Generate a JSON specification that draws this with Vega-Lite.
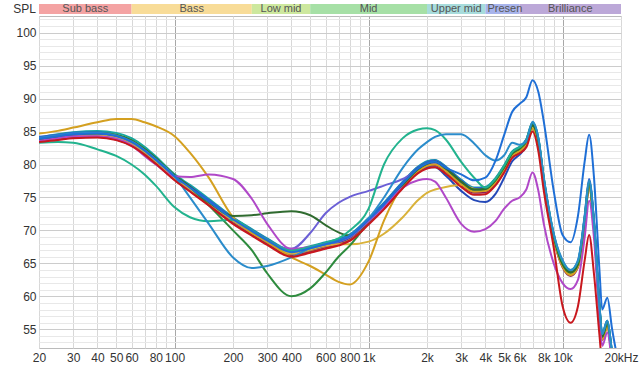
{
  "$schema": "https://vega.github.io/schema/vega-lite/v6.json",
  "padding": {"left": 13, "top": 3, "right": 2, "bottom": 0},
  "background": "white",
  "spacing": 2,
  "bounds": "flush",
  "config": {"font": "Liberation Sans", "axis": {"labelFont": "Liberation Sans", "labelColor": "#333", "labelFontSize": 12}},
  "resolve": {"scale": {"color": "independent", "x": "independent"}},
  "vconcat": [
    {
      "width": 582,
      "height": 10,
      "view": {"stroke": null},
      "data": {"values": [
        {"band": "Sub bass", "a": 20, "b": 60},
        {"band": "Bass", "a": 60, "b": 250},
        {"band": "Low mid", "a": 250, "b": 500},
        {"band": "Mid", "a": 500, "b": 2000},
        {"band": "Upper mid", "a": 2000, "b": 4000},
        {"band": "Presence", "a": 4000, "b": 6000},
        {"band": "Brilliance", "a": 6000, "b": 20000}
      ]},
      "layer": [
        {
          "mark": {"type": "rect"},
          "encoding": {
            "x": {"field": "a", "type": "quantitative", "scale": {"type": "log", "domain": [20, 20000], "nice": false}, "axis": null},
            "x2": {"field": "b"},
            "color": {"field": "band", "type": "nominal", "legend": null,
              "scale": {"domain": ["Sub bass", "Bass", "Low mid", "Mid", "Upper mid", "Presence", "Brilliance"],
                        "range": ["#f4a3a3", "#f8dc98", "#cde89e", "#a6e0a6", "#a7dcdc", "#a8b4ec", "#bca8d8"]}}
          }
        },
        {
          "transform": [{"filter": "datum.band != 'Presence'"}, {"calculate": "sqrt(datum.a * datum.b)", "as": "mid"}],
          "mark": {"type": "text", "fontSize": 11, "color": "#555", "baseline": "middle", "font": "Liberation Sans"},
          "encoding": {
            "x": {"field": "mid", "type": "quantitative"},
            "text": {"field": "band"}
          }
        },
        {
          "transform": [{"filter": "datum.band == 'Presence'"}],
          "mark": {"type": "text", "fontSize": 11, "color": "#555", "baseline": "middle", "align": "left", "dx": 2, "limit": 37, "ellipsis": "\u200b", "font": "Liberation Sans"},
          "encoding": {
            "x": {"field": "a", "type": "quantitative"},
            "text": {"field": "band"}
          }
        },
        {
          "transform": [{"filter": "datum.band == 'Sub bass'"}],
          "mark": {"type": "text", "text": "SPL", "fontSize": 12, "color": "#333", "baseline": "middle", "align": "right", "dx": -3, "font": "Liberation Sans"},
          "encoding": {
            "x": {"field": "a", "type": "quantitative"}
          }
        }
      ]
    },
    {
      "width": 582,
      "height": 332,
      "view": {"stroke": "#bbbbbb"},
      "data": {"values": [
        {"f":20,"m1":84.2,"m2":84.1,"m3":83.7,"m4":83.6,"m5":84.0,"m6":83.5,"rd":83.4,"gd":84.7,"yl":83.8,"tg":83.3,"ce":84.0,"or":83.6,"vi":83.8,"dg":83.7,"gp":83.8,"tb":83.9,"db":83.8},
        {"f":25,"m1":84.5,"m2":84.6,"m3":84.0,"m4":84.0,"m5":84.4,"m6":83.8,"rd":83.7,"gd":85.1,"yl":84.1,"tg":83.4,"ce":84.4,"or":84.0,"vi":84.1,"dg":84.1,"gp":84.2,"tb":84.3,"db":84.1},
        {"f":30,"m1":84.8,"m2":84.9,"m3":84.3,"m4":84.3,"m5":84.7,"m6":84.1,"rd":84.0,"gd":85.6,"yl":84.4,"tg":83.3,"ce":84.7,"or":84.3,"vi":84.4,"dg":84.5,"gp":84.6,"tb":84.6,"db":84.4},
        {"f":40,"m1":84.9,"m2":85.1,"m3":84.4,"m4":84.5,"m5":84.8,"m6":84.2,"rd":84.1,"gd":86.4,"yl":84.5,"tg":82.3,"ce":84.8,"or":84.3,"vi":84.5,"dg":84.7,"gp":84.8,"tb":84.7,"db":84.5},
        {"f":50,"m1":84.5,"m2":84.8,"m3":84.0,"m4":84.2,"m5":84.4,"m6":83.8,"rd":83.7,"gd":86.9,"yl":84.1,"tg":81.3,"ce":84.4,"or":83.9,"vi":84.1,"dg":84.4,"gp":84.5,"tb":84.3,"db":84.1},
        {"f":60,"m1":83.6,"m2":84.0,"m3":83.1,"m4":83.3,"m5":83.5,"m6":82.9,"rd":82.8,"gd":86.9,"yl":83.2,"tg":80.0,"ce":83.5,"or":82.9,"vi":83.2,"dg":83.6,"gp":83.7,"tb":83.4,"db":83.2},
        {"f":70,"m1":82.3,"m2":82.7,"m3":81.8,"m4":82.0,"m5":82.2,"m6":81.6,"rd":81.5,"gd":86.4,"yl":81.9,"tg":78.5,"ce":82.2,"or":81.3,"vi":81.9,"dg":82.3,"gp":82.4,"tb":82.1,"db":81.9},
        {"f":80,"m1":80.9,"m2":81.2,"m3":80.4,"m4":80.6,"m5":80.8,"m6":80.2,"rd":80.1,"gd":85.8,"yl":80.5,"tg":76.8,"ce":80.8,"or":80.0,"vi":80.5,"dg":80.9,"gp":81.0,"tb":80.7,"db":80.5},
        {"f":100,"m1":78.3,"m2":78.5,"m3":77.9,"m4":78.1,"m5":78.3,"m6":77.7,"rd":77.6,"gd":84.3,"yl":78.0,"tg":73.5,"ce":78.2,"or":78.2,"vi":78.0,"dg":78.3,"gp":78.4,"tb":78.2,"db":78.0},
        {"f":120,"m1":76.7,"m2":76.9,"m3":76.2,"m4":76.4,"m5":76.6,"m6":76.0,"rd":75.9,"gd":81.8,"yl":76.3,"tg":72.0,"ce":75.0,"or":78.1,"vi":76.3,"dg":76.6,"gp":76.6,"tb":76.5,"db":76.3},
        {"f":150,"m1":74.6,"m2":74.8,"m3":74.1,"m4":74.3,"m5":74.5,"m6":73.9,"rd":73.8,"gd":78.0,"yl":74.2,"tg":71.4,"ce":71.0,"or":78.5,"vi":74.2,"dg":74.3,"gp":73.8,"tb":74.4,"db":74.2},
        {"f":200,"m1":71.9,"m2":72.0,"m3":71.4,"m4":71.6,"m5":71.8,"m6":71.2,"rd":71.0,"gd":72.0,"yl":71.5,"tg":71.6,"ce":65.9,"or":77.8,"vi":71.5,"dg":72.2,"gp":70.0,"tb":71.7,"db":71.5},
        {"f":250,"m1":70.1,"m2":70.2,"m3":69.6,"m4":69.8,"m5":70.0,"m6":69.4,"rd":69.2,"gd":69.6,"yl":69.7,"tg":70.0,"ce":64.3,"or":74.8,"vi":69.7,"dg":72.3,"gp":67.0,"tb":69.9,"db":69.7},
        {"f":300,"m1":68.7,"m2":68.8,"m3":68.2,"m4":68.4,"m5":68.6,"m6":68.0,"rd":67.8,"gd":68.3,"yl":68.3,"tg":68.6,"ce":64.6,"or":71.0,"vi":68.3,"dg":72.6,"gp":63.5,"tb":68.5,"db":68.3},
        {"f":400,"m1":66.9,"m2":67.0,"m3":66.4,"m4":66.6,"m5":66.8,"m6":66.2,"rd":66.0,"gd":65.9,"yl":66.5,"tg":66.9,"ce":65.9,"or":67.2,"vi":67.2,"dg":72.9,"gp":60.0,"tb":66.7,"db":66.5},
        {"f":500,"m1":67.5,"m2":67.6,"m3":67.0,"m4":67.2,"m5":67.4,"m6":66.8,"rd":66.6,"gd":64.6,"yl":67.1,"tg":67.5,"ce":67.3,"or":67.5,"vi":69.6,"dg":72.3,"gp":61.2,"tb":67.3,"db":67.1},
        {"f":600,"m1":68.1,"m2":68.2,"m3":67.6,"m4":67.8,"m5":68.0,"m6":67.4,"rd":67.2,"gd":63.3,"yl":67.7,"tg":68.1,"ce":67.9,"or":67.9,"vi":72.6,"dg":70.8,"gp":63.6,"tb":67.9,"db":67.7},
        {"f":700,"m1":68.6,"m2":68.7,"m3":68.1,"m4":68.3,"m5":68.5,"m6":67.9,"rd":67.7,"gd":62.2,"yl":67.9,"tg":68.8,"ce":68.4,"or":68.3,"vi":74.2,"dg":69.7,"gp":66.0,"tb":68.4,"db":68.2},
        {"f":800,"m1":69.3,"m2":69.4,"m3":68.8,"m4":69.0,"m5":69.2,"m6":68.6,"rd":68.4,"gd":61.8,"yl":67.9,"tg":70.0,"ce":69.2,"or":69.0,"vi":75.1,"dg":69.2,"gp":67.7,"tb":69.1,"db":68.9},
        {"f":1000,"m1":71.8,"m2":71.9,"m3":71.3,"m4":71.5,"m5":71.7,"m6":71.1,"rd":70.9,"gd":65.3,"yl":68.3,"tg":73.3,"ce":71.8,"or":71.4,"vi":76.0,"dg":71.4,"gp":71.2,"tb":71.6,"db":71.4},
        {"f":1200,"m1":74.1,"m2":74.2,"m3":73.6,"m4":73.8,"m5":74.0,"m6":73.4,"rd":73.2,"gd":71.5,"yl":69.5,"tg":80.0,"ce":75.0,"or":73.6,"vi":76.8,"dg":73.7,"gp":73.8,"tb":73.9,"db":73.7},
        {"f":1500,"m1":77.3,"m2":77.4,"m3":76.8,"m4":77.0,"m5":77.2,"m6":76.6,"rd":76.4,"gd":76.8,"yl":72.0,"tg":84.0,"ce":79.5,"or":76.5,"vi":77.8,"dg":76.9,"gp":77.0,"tb":77.1,"db":76.9},
        {"f":1800,"m1":79.6,"m2":79.7,"m3":79.1,"m4":79.3,"m5":79.5,"m6":78.9,"rd":78.7,"gd":79.0,"yl":74.6,"tg":85.3,"ce":82.3,"or":77.6,"vi":79.2,"dg":79.3,"gp":79.4,"tb":79.4,"db":79.0},
        {"f":2000,"m1":80.4,"m2":80.5,"m3":79.9,"m4":80.1,"m5":80.3,"m6":79.7,"rd":79.4,"gd":79.8,"yl":75.7,"tg":85.5,"ce":83.4,"or":77.8,"vi":80.0,"dg":80.1,"gp":80.2,"tb":80.2,"db":79.6},
        {"f":2200,"m1":80.6,"m2":80.7,"m3":80.1,"m4":80.3,"m5":80.5,"m6":79.9,"rd":79.6,"gd":80.0,"yl":76.2,"tg":85.2,"ce":84.2,"or":77.4,"vi":80.2,"dg":80.4,"gp":80.4,"tb":80.4,"db":79.6},
        {"f":2500,"m1":79.6,"m2":79.7,"m3":79.1,"m4":79.3,"m5":79.5,"m6":78.9,"rd":78.6,"gd":79.0,"yl":76.6,"tg":83.8,"ce":84.6,"or":75.0,"vi":79.2,"dg":79.4,"gp":79.4,"tb":79.5,"db":78.3},
        {"f":3000,"m1":77.6,"m2":77.7,"m3":77.1,"m4":77.3,"m5":77.5,"m6":76.9,"rd":76.6,"gd":77.0,"yl":76.9,"tg":80.4,"ce":84.6,"or":71.0,"vi":77.2,"dg":77.4,"gp":77.4,"tb":78.5,"db":76.0},
        {"f":3500,"m1":76.4,"m2":76.5,"m3":75.9,"m4":76.1,"m5":76.3,"m6":75.7,"rd":75.4,"gd":75.9,"yl":76.3,"tg":78.0,"ce":83.2,"or":69.8,"vi":76.0,"dg":76.2,"gp":76.2,"tb":77.6,"db":74.6},
        {"f":4000,"m1":76.5,"m2":76.6,"m3":76.0,"m4":76.2,"m5":76.4,"m6":75.8,"rd":75.5,"gd":76.0,"yl":76.1,"tg":76.5,"ce":81.4,"or":70.2,"vi":76.1,"dg":76.3,"gp":76.3,"tb":78.0,"db":74.3},
        {"f":4500,"m1":77.8,"m2":77.9,"m3":77.3,"m4":77.5,"m5":77.7,"m6":77.1,"rd":76.8,"gd":77.3,"yl":77.4,"tg":77.8,"ce":80.6,"or":71.4,"vi":77.4,"dg":77.6,"gp":77.6,"tb":80.5,"db":75.5},
        {"f":5000,"m1":79.8,"m2":79.9,"m3":79.3,"m4":79.5,"m5":79.7,"m6":79.1,"rd":78.8,"gd":79.3,"yl":79.4,"tg":79.8,"ce":81.4,"or":73.3,"vi":79.4,"dg":79.6,"gp":79.6,"tb":84.5,"db":78.0},
        {"f":5500,"m1":81.9,"m2":82.0,"m3":81.4,"m4":81.6,"m5":81.8,"m6":81.2,"rd":81.0,"gd":81.4,"yl":81.5,"tg":81.9,"ce":83.3,"or":74.5,"vi":81.5,"dg":81.7,"gp":81.7,"tb":88.0,"db":80.5},
        {"f":6000,"m1":82.6,"m2":82.7,"m3":82.1,"m4":82.3,"m5":82.5,"m6":81.9,"rd":81.7,"gd":82.0,"yl":82.2,"tg":82.6,"ce":83.0,"or":75.0,"vi":82.2,"dg":82.4,"gp":82.4,"tb":89.2,"db":81.5},
        {"f":6500,"m1":83.8,"m2":83.8,"m3":83.2,"m4":83.4,"m5":83.6,"m6":83.0,"rd":82.6,"gd":83.1,"yl":83.3,"tg":83.7,"ce":83.5,"or":76.2,"vi":83.3,"dg":83.5,"gp":83.5,"tb":90.2,"db":82.8},
        {"f":7000,"m1":86.3,"m2":86.2,"m3":85.5,"m4":85.9,"m5":86.0,"m6":85.4,"rd":85.0,"gd":85.4,"yl":85.6,"tg":86.4,"ce":86.5,"or":78.8,"vi":85.7,"dg":85.9,"gp":85.9,"tb":92.8,"db":85.6},
        {"f":7500,"m1":83.9,"m2":83.9,"m3":83.2,"m4":83.5,"m5":83.7,"m6":83.1,"rd":82.0,"gd":83.1,"yl":83.3,"tg":84.0,"ce":84.0,"or":76.0,"vi":83.4,"dg":83.6,"gp":83.6,"tb":91.0,"db":83.4},
        {"f":8000,"m1":77.8,"m2":77.9,"m3":77.2,"m4":77.5,"m5":77.7,"m6":77.1,"rd":76.0,"gd":77.1,"yl":77.3,"tg":78.0,"ce":78.0,"or":71.0,"vi":77.4,"dg":77.6,"gp":77.6,"tb":86.5,"db":77.4},
        {"f":9000,"m1":69.3,"m2":69.4,"m3":68.8,"m4":69.0,"m5":69.2,"m6":68.6,"rd":67.4,"gd":68.7,"yl":68.9,"tg":69.5,"ce":69.5,"or":65.0,"vi":68.9,"dg":69.1,"gp":69.1,"tb":76.0,"db":68.9},
        {"f":10000,"m1":65.0,"m2":65.2,"m3":64.6,"m4":64.8,"m5":65.0,"m6":64.4,"rd":58.5,"gd":64.5,"yl":64.7,"tg":65.3,"ce":65.5,"or":62.0,"vi":64.7,"dg":64.9,"gp":64.9,"tb":69.3,"db":64.7},
        {"f":11000,"m1":63.8,"m2":63.9,"m3":63.3,"m4":63.5,"m5":63.7,"m6":63.1,"rd":56.0,"gd":63.2,"yl":63.4,"tg":64.0,"ce":64.0,"or":61.1,"vi":63.4,"dg":63.6,"gp":63.6,"tb":68.2,"db":63.4},
        {"f":12000,"m1":65.2,"m2":65.2,"m3":64.6,"m4":64.8,"m5":65.0,"m6":64.4,"rd":58.5,"gd":64.5,"yl":64.7,"tg":65.3,"ce":65.5,"or":62.5,"vi":64.7,"dg":64.9,"gp":64.9,"tb":72.2,"db":64.7},
        {"f":13000,"m1":72.3,"m2":72.0,"m3":71.2,"m4":71.5,"m5":71.7,"m6":71.1,"rd":65.5,"gd":71.2,"yl":71.4,"tg":72.0,"ce":72.0,"or":69.0,"vi":71.4,"dg":71.6,"gp":71.6,"tb":80.5,"db":71.4},
        {"f":13700,"m1":77.8,"m2":77.4,"m3":76.6,"m4":77.0,"m5":77.2,"m6":76.6,"rd":69.3,"gd":76.6,"yl":76.8,"tg":77.5,"ce":77.5,"or":74.5,"vi":76.9,"dg":77.1,"gp":77.1,"tb":84.5,"db":76.9},
        {"f":14500,"m1":71.6,"m2":71.4,"m3":70.6,"m4":71.0,"m5":71.2,"m6":70.6,"rd":63.5,"gd":70.6,"yl":70.8,"tg":71.5,"ce":71.5,"or":69.0,"vi":70.9,"dg":71.1,"gp":71.1,"tb":78.2,"db":70.9},
        {"f":15500,"m1":58.6,"m2":58.4,"m3":57.6,"m4":58.0,"m5":58.2,"m6":57.6,"rd":54.0,"gd":57.6,"yl":57.8,"tg":58.5,"ce":58.5,"or":56.5,"vi":57.9,"dg":58.1,"gp":58.1,"tb":63.8,"db":57.9},
        {"f":16000,"m1":54.3,"m2":54.2,"m3":53.4,"m4":53.8,"m5":54.0,"m6":53.4,"rd":50.0,"gd":53.4,"yl":53.6,"tg":54.3,"ce":54.3,"or":52.5,"vi":53.7,"dg":53.9,"gp":53.9,"tb":58.0,"db":53.7},
        {"f":17000,"m1":56.3,"m2":56.2,"m3":55.4,"m4":55.8,"m5":56.0,"m6":55.4,"rd":51.0,"gd":55.4,"yl":55.6,"tg":56.3,"ce":56.3,"or":54.5,"vi":55.7,"dg":55.9,"gp":55.9,"tb":59.8,"db":55.7},
        {"f":18000,"m1":51.5,"m2":51.4,"m3":50.6,"m4":51.0,"m5":51.2,"m6":50.6,"rd":47.0,"gd":50.6,"yl":50.8,"tg":51.5,"ce":51.5,"or":50.0,"vi":50.9,"dg":51.1,"gp":51.1,"tb":55.0,"db":50.9},
        {"f":20000,"m1":44.5,"m2":44.4,"m3":43.6,"m4":44.0,"m5":44.2,"m6":43.6,"rd":42.0,"gd":43.6,"yl":43.8,"tg":44.5,"ce":44.5,"or":43.0,"vi":43.9,"dg":44.1,"gp":44.1,"tb":48.0,"db":43.9}
      ]},
      "transform": [{"fold": ["m4","m6","m3","m5","m2","m1","vi","db","yl","gd","gp","dg","or","tg","ce","rd","tb"], "as": ["s", "v"]}],
      "mark": {"type": "line", "strokeWidth": 2, "interpolate": "monotone", "clip": true},
      "encoding": {
        "x": {"field": "f", "type": "quantitative",
          "scale": {"type": "log", "domain": [20, 20000], "nice": false},
          "axis": {"title": null, "values": [20,30,40,50,60,70,80,90,100,200,300,400,500,600,700,800,900,1000,2000,3000,4000,5000,6000,7000,8000,9000,10000,20000],
            "labelExpr": "indexof([70,90,500,700,900,7000,9000], datum.value) >= 0 ? '' : datum.value == 20000 ? '20kHz' : datum.value >= 1000 ? (datum.value/1000) + 'k' : '' + datum.value",
            "ticks": false, "domain": false, "grid": true, "labelPadding": 4, "labelFlush": false, "labelOverlap": false,
            "gridColor": {"condition": {"test": "datum.value == 100 || datum.value == 1000 || datum.value == 10000", "value": "#a8a8a8"}, "value": "#d8d8d8"}}},
        "y": {"field": "v", "type": "quantitative",
          "scale": {"domain": [52.16, 102.53], "nice": false, "zero": false},
          "axis": {"values": [53,54,55,56,57,58,59,60,61,62,63,64,65,66,67,68,69,70,71,72,73,74,75,76,77,78,79,80,81,82,83,84,85,86,87,88,89,90,91,92,93,94,95,96,97,98,99,100,101,102],
            "labelExpr": "datum.value % 5 === 0 ? '' + datum.value : ''",
            "ticks": false, "domain": false, "grid": true, "labelPadding": 3, "labelOverlap": false, "title": null,
            "gridColor": {"condition": {"test": "datum.value % 5 === 0", "value": "#cccccc"}, "value": "#e8e8e8"}}},
        "color": {"field": "s", "type": "nominal", "legend": null,
          "scale": {"domain": ["m4","m6","m3","m5","m2","m1","vi","db","yl","gd","gp","dg","or","tg","ce","rd","tb"],
                    "range": ["#7d3fc4","#8b1e5a","#d9822b","#38a2e0","#17a7a0","#2c62d4","#6b5fd6","#2448b8","#d9b23a","#d4a020","#2e8b3e","#2f6b2f","#b048c8","#22b38e","#2b8ccb","#c8181e","#1f6fd6"]}}
      }
    }
  ]
}
